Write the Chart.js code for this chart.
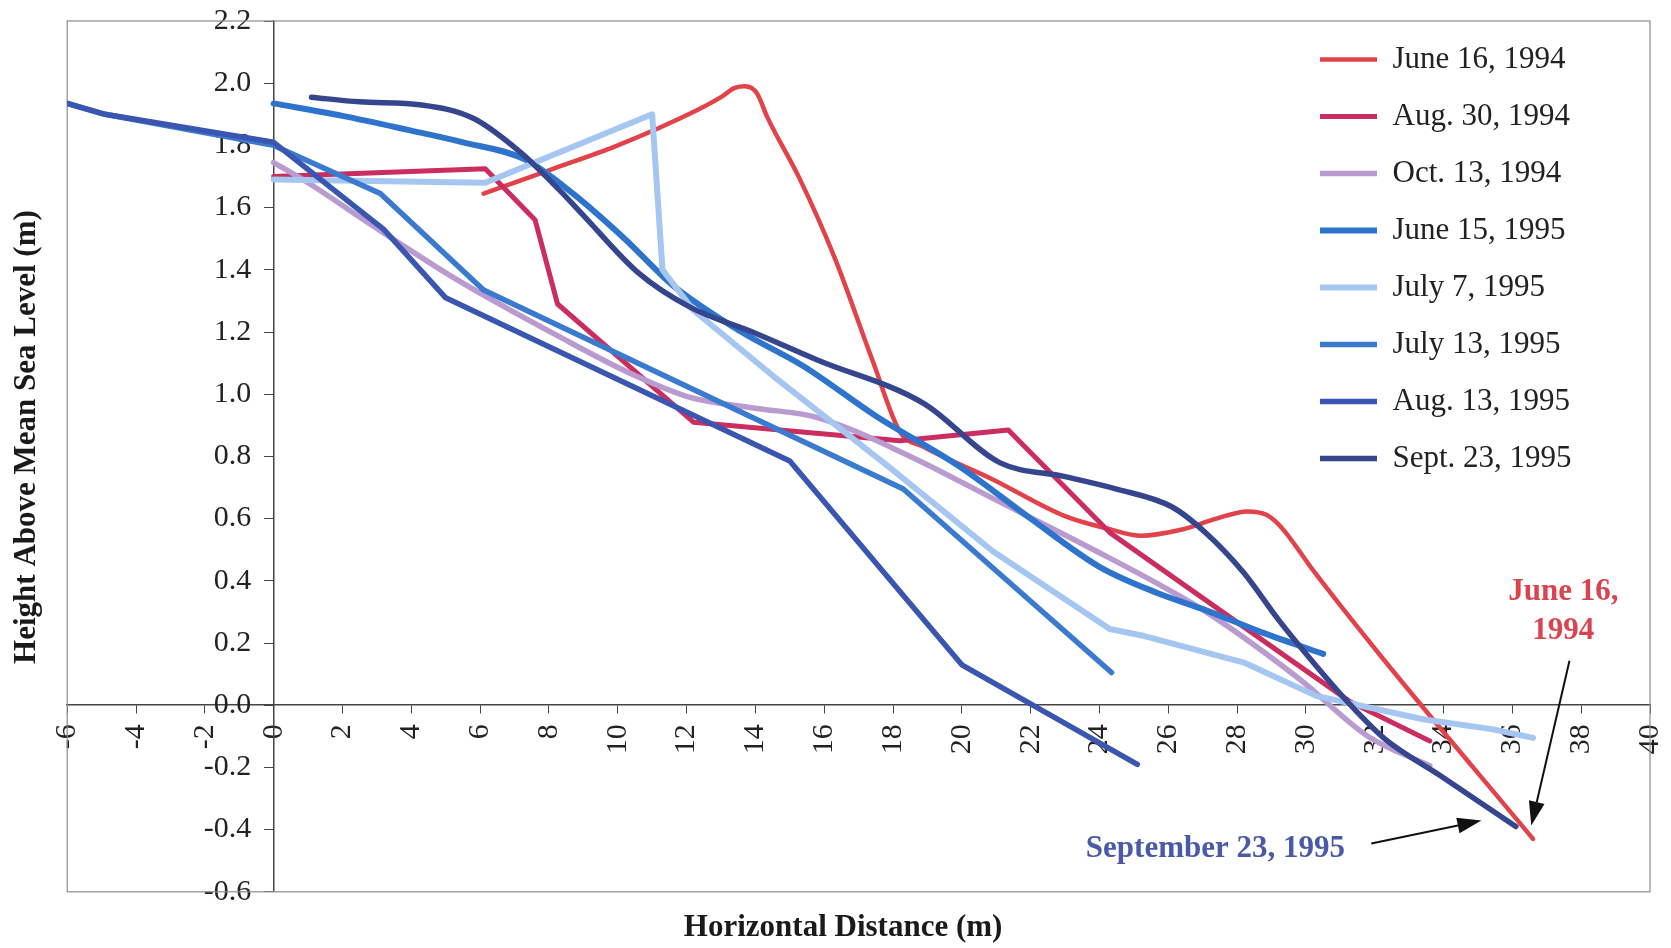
<!DOCTYPE html>
<html>
<head>
<meta charset="utf-8">
<title>Beach profiles</title>
<script src="https://cdn.jsdelivr.net/npm/chart.js@4.4.1/dist/chart.umd.min.js"></script>
<style>
  html, body { margin: 0; padding: 0; background: #fff; }
  #wrap { width: 1671px; height: 948px; }
</style>
</head>
<body>
<div id="wrap"><canvas id="profileChart"></canvas></div>
<script>
// survey dates (legend order)
const surveyNames = ['June 16, 1994', 'Aug. 30, 1994', 'Oct. 13, 1994', 'June 15, 1995',
                     'July 7, 1995', 'July 13, 1995', 'Aug. 13, 1995', 'Sept. 23, 1995'];

// profiles: horizontal distance (m) / height above mean sea level (m)
const jun94X = [6.1, 8.0, 10.0, 12.3, 13.0, 13.4, 13.7, 14.05, 14.35, 15.3, 16.3, 17.4, 18.2, 18.9, 20.9, 23.0, 24.3, 25.2, 26.4, 27.4, 28.3, 28.85, 29.3, 30.2, 32.2, 36.6];
const jun94Y = [1.645, 1.72, 1.80, 1.913, 1.955, 1.985, 1.99, 1.967, 1.89, 1.69, 1.44, 1.11, 0.88, 0.83, 0.726, 0.608, 0.566, 0.545, 0.565, 0.60, 0.623, 0.612, 0.57, 0.435, 0.155, -0.43];

const aug94X = [0, 6.15, 7.6, 8.25, 12.2, 18.2, 21.35, 24.3, 31.3, 33.6];
const aug94Y = [1.70, 1.725, 1.56, 1.29, 0.91, 0.85, 0.885, 0.555, 0.01, -0.115];

const oct94X = [0, 1.0, 2.9, 5.3, 8.3, 10.5, 12.1, 14.0, 15.8, 18.5, 20.9, 24.0, 25.7, 27.1, 29.8, 31.8, 33.6];
const oct94Y = [1.745, 1.68, 1.54, 1.37, 1.185, 1.06, 0.99, 0.955, 0.925, 0.80, 0.665, 0.49, 0.39, 0.30, 0.085, -0.10, -0.195];

const jun95X = [0, 2.0, 3.9, 5.5, 7.3, 8.7, 10.2, 11.6, 13.6, 15.4, 17.5, 19.9, 22.0, 24.0, 25.7, 27.1, 28.7, 30.5];
const jun95Y = [1.935, 1.895, 1.85, 1.81, 1.755, 1.645, 1.50, 1.35, 1.20, 1.09, 0.93, 0.77, 0.60, 0.445, 0.36, 0.305, 0.235, 0.165];

const jul7X = [0, 6.15, 11.0, 11.3, 12.2, 14.5, 17.9, 20.9, 24.3, 25.2, 28.2, 30.3, 33.4, 35.4, 36.6];
const jul7Y = [1.69, 1.68, 1.90, 1.40, 1.27, 1.06, 0.765, 0.495, 0.245, 0.225, 0.137, 0.03, -0.045, -0.077, -0.105];

const jul13X = [-6, -4.9, 0, 3.1, 6.1, 18.3, 24.35];
const jul13Y = [1.935, 1.90, 1.80, 1.645, 1.335, 0.695, 0.105];

const aug13X = [-6, -4.9, 0, 3.2, 5.0, 15.0, 20.0, 25.1];
const aug13Y = [1.935, 1.90, 1.81, 1.53, 1.31, 0.785, 0.13, -0.19];

const sep95X = [1.1, 2.5, 4.3, 5.8, 7.2, 8.3, 9.0, 10.6, 12.1, 14.0, 15.8, 18.9, 21.1, 23.0, 24.5, 26.1, 27.1, 28.2, 29.2, 30.3, 31.3, 32.3, 33.9, 36.1];
const sep95Y = [1.955, 1.94, 1.93, 1.887, 1.775, 1.657, 1.575, 1.39, 1.28, 1.196, 1.11, 0.97, 0.78, 0.735, 0.695, 0.638, 0.553, 0.425, 0.275, 0.126, 0.0, -0.109, -0.226, -0.39];

// axis ranges
const xRange = [-6, 40];
const yRange = [-0.6, 2.2];

// line styles, same order as surveyNames
const lineColors = ['#e2434b', '#cc2d5f', '#b99bd0', '#2f74cc', '#a5c6f0', '#3a7bd0', '#3a56b0', '#35468e'];
const lineWidths = [4.5, 5, 5.5, 6, 6, 5.5, 5.5, 5.5];
const smoothLine = [true, false, true, true, false, false, false, true];

const profileX = [jun94X, aug94X, oct94X, jun95X, jul7X, jul13X, aug13X, sep95X];
const profileY = [jun94Y, aug94Y, oct94Y, jun95Y, jul7Y, jul13Y, aug13Y, sep95Y];

// callouts, in data units
const notes = [
  { lines: ['June 16,', '1994'], x: 37.48, y: 0.365, color: '#d9444f' },
  { lines: ['September 23, 1995'], x: 27.37, y: -0.461, color: '#4a5aa8' }
];
const arrows = [
  { from: [37.66, 0.143], to: [36.55, -0.387] },
  { from: [31.9, -0.445], to: [35.1, -0.371] }
];

const serif = '"Liberation Serif", "Times New Roman", "DejaVu Serif", serif';
Chart.defaults.font.family = serif;
Chart.defaults.color = '#222';

function toPoints(xs, ys) {
  return xs.map((x, i) => ({ x: x, y: ys[i] }));
}

const datasets = surveyNames.map((name, i) => ({
  label: name,
  data: toPoints(profileX[i], profileY[i]),
  showLine: true,
  borderColor: lineColors[i],
  backgroundColor: lineColors[i],
  borderWidth: lineWidths[i],
  pointRadius: 0,
  tension: 0,
  cubicInterpolationMode: smoothLine[i] ? 'monotone' : 'default',
  borderJoinStyle: 'round',
  borderCapStyle: 'round',
  xAxisID: 'x',
  yAxisID: 'y',
  order: -i   // later surveys on top
}));

// thin grey frame round the plot area
const plotFrame = {
  id: 'plotFrame',
  beforeDatasetsDraw(chart) {
    const { ctx, chartArea: a } = chart;
    ctx.save();
    ctx.strokeStyle = '#8c8c8c';
    ctx.lineWidth = 1.2;
    ctx.strokeRect(a.left, a.top, a.right - a.left, a.bottom - a.top);
    ctx.restore();
  }
};

// put the legend in the top right corner inside the plot
const legendSpot = {
  id: 'legendSpot',
  afterLayout(chart) {
    const lg = chart.legend;
    if (!lg) return;
    const a = chart.chartArea;
    lg.left = a.right - 356;
    lg.right = lg.left + lg.width;
    lg.top = a.top - 3;
    lg.bottom = lg.top + lg.height;
  }
};

// date callouts with arrows
const callouts = {
  id: 'callouts',
  afterDatasetsDraw(chart) {
    const { ctx, scales } = chart;
    const px = v => scales.x.getPixelForValue(v);
    const py = v => scales.y.getPixelForValue(v);
    ctx.save();
    ctx.font = 'bold 31px ' + serif;
    ctx.textAlign = 'center';
    ctx.textBaseline = 'middle';
    notes.forEach(n => {
      ctx.fillStyle = n.color;
      n.lines.forEach((t, k) => ctx.fillText(t, px(n.x), py(n.y) + k * 39));
    });
    ctx.strokeStyle = '#111';
    ctx.fillStyle = '#111';
    ctx.lineWidth = 2;
    arrows.forEach(ar => {
      const x1 = px(ar.from[0]), y1 = py(ar.from[1]);
      const x2 = px(ar.to[0]), y2 = py(ar.to[1]);
      const ang = Math.atan2(y2 - y1, x2 - x1);
      const len = 24, half = 8;
      const bx = x2 - len * Math.cos(ang), by = y2 - len * Math.sin(ang);
      ctx.beginPath();
      ctx.moveTo(x1, y1);
      ctx.lineTo(bx, by);
      ctx.stroke();
      ctx.beginPath();
      ctx.moveTo(x2, y2);
      ctx.lineTo(bx + half * Math.sin(ang), by - half * Math.cos(ang));
      ctx.lineTo(bx - half * Math.sin(ang), by + half * Math.cos(ang));
      ctx.closePath();
      ctx.fill();
    });
    ctx.restore();
  }
};

const ctx = document.getElementById('profileChart').getContext('2d');

const profileChart = new Chart(ctx, {
  type: 'scatter',
  data: { datasets: datasets },
  options: {
    responsive: true,
    maintainAspectRatio: false,
    animation: false,
    events: [],
    layout: { padding: { left: 4, top: 21, right: 21, bottom: 0 } },
    scales: {
      x: {
        type: 'linear',
        min: xRange[0],
        max: xRange[1],
        position: { y: 0 },
        border: { display: true, color: '#444', width: 1.5 },
        grid: { display: true, drawOnChartArea: false, drawTicks: true, tickLength: 8, color: '#444' },
        ticks: {
          stepSize: 2,
          autoSkip: false,
          minRotation: 90,
          maxRotation: 90,
          padding: 11,
          color: '#222',
          font: { size: 30 }
        },
        afterFit(scale) {
          scale.height = 0;
          scale.paddingLeft = 0;
          scale.paddingRight = 0;
        }
      },
      y: {
        type: 'linear',
        min: yRange[0],
        max: yRange[1],
        position: { x: 0 },
        border: { display: true, color: '#444', width: 1.5 },
        grid: { display: true, drawOnChartArea: false, drawTicks: true, tickLength: 9, color: '#444' },
        ticks: {
          stepSize: 0.2,
          autoSkip: false,
          color: '#222',
          font: { size: 30 },
          // trailing spaces keep the labels clear of the axis line
          callback: v => (Math.abs(v) < 1e-9 ? 0 : v).toFixed(1) + '   '
        },
        afterFit(scale) {
          scale.width = 0;
          scale.paddingTop = 0;
          scale.paddingBottom = 0;
        }
      },
      xTitle: {
        axis: 'x',
        type: 'linear',
        position: 'bottom',
        min: xRange[0],
        max: xRange[1],
        border: { display: false },
        grid: { display: false, drawTicks: false },
        ticks: { display: false },
        title: {
          display: true,
          text: 'Horizontal Distance (m)    ',
          color: '#1a1a1a',
          font: { size: 31, weight: 'bold' },
          padding: { top: 18, bottom: 1 }
        }
      },
      yTitle: {
        axis: 'y',
        type: 'linear',
        position: 'left',
        min: yRange[0],
        max: yRange[1],
        border: { display: false },
        grid: { display: false, drawTicks: false },
        ticks: { display: false },
        title: {
          display: true,
          text: '     Height Above Mean Sea Level (m)',
          color: '#1a1a1a',
          font: { size: 31, weight: 'bold' },
          padding: { top: 4, bottom: 22 }
        }
      }
    },
    plugins: {
      tooltip: { enabled: false },
      legend: {
        position: 'chartArea',
        align: 'start',
        labels: {
          usePointStyle: true,
          pointStyle: 'line',
          pointStyleWidth: 57,
          padding: 26,
          color: '#222',
          font: { size: 31 },
          sort: (a, b) => a.datasetIndex - b.datasetIndex
        }
      }
    }
  },
  plugins: [plotFrame, legendSpot, callouts]
});
</script>
</body>
</html>
